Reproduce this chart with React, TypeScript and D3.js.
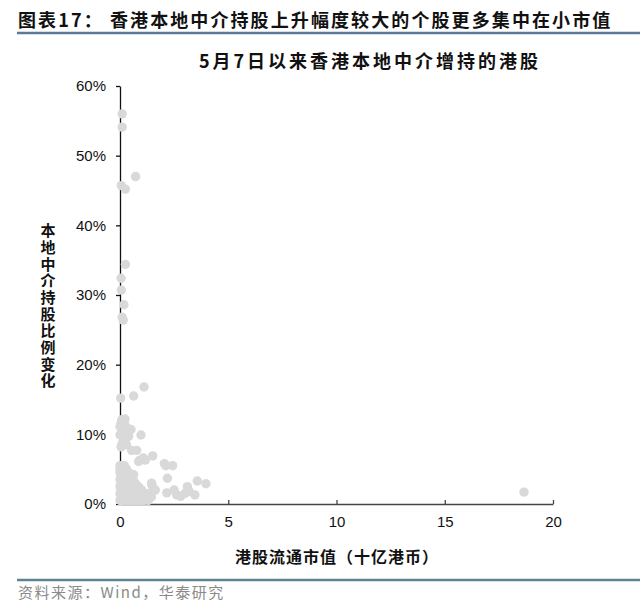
import React, { useRef, useEffect } from 'react';
import * as d3 from 'd3';

// --- DATA ---
// market cap in HKD bn, change in local-broker holding (%)
const marketCap = [
  0.1, 0.1, 0.72, 0.06, 0.25, 0.25, 0.05, 0.06, 0.18, 0.1, 0.15,
  1.11, 0.63, 0.03, 0.08, 0.23,
  0, 0.31, 0.51, 0.15, 0, 0.97, 0.23, 0.1, 0.05, 0.2, 0.35, 0.4, 0.1, 0.3, 0.05,
  0.54, 0.77, 0.92, 1.08, 1.51, 2.05, 2.12, 2.43, 2.19, 1.46, 3.57, 3.97, 2.16, 2.62, 3.11, 3.46, 3.0, 18.66,
  0.86, 1.17, 0.63, 1.48, 1.63, 2.5, 2.8, 3.2,
  0, 0.1, 0.2, 0, 0.15, 0.3, 0, 0.1, 0.25, 0.4, 0.05, 0.2, 0.35, 0.5,
  0, 0.15, 0.3, 0.45, 0.6, 0.05, 0.2, 0.4, 0.55, 0.7, 0, 0.1, 0.3, 0.5, 0.65, 0.85,
  0.05, 0.2, 0.35, 0.6, 0.8, 1.0, 0, 0.15, 0.3, 0.45, 0.7, 0.9, 1.15, 1.35,
  0.05, 0.25, 0.4, 0.55, 0.75, 1.0, 1.2, 1.45, 0, 0.1, 0.2, 0.35, 0.5, 0.65, 0.8, 0.95, 1.1, 1.3,
];
const holdingChange = [
  56.0, 54.1, 47.0, 45.7, 45.2, 34.4, 32.4, 30.7, 28.6, 26.8, 26.4,
  16.8, 15.5, 15.2, 12.1, 12.2,
  11.1, 11.0, 10.7, 10.1, 9.9, 9.9, 9.2, 10.6, 11.6, 11.5, 10.3, 9.7, 8.7, 8.5, 8.2,
  7.7, 7.7, 6.3, 6.6, 6.9, 5.8, 5.5, 5.5, 3.7, 3.0, 3.3, 2.9, 1.6, 1.3, 2.5, 1.3, 1.5, 1.7,
  6.1, 6.3, 4.2, 2.7, 2.0, 2.0, 1.1, 1.8,
  5.5, 5.5, 5.5, 5.0, 5.0, 5.0, 4.5, 4.5, 4.5, 4.5, 4.0, 4.0, 4.0, 4.0,
  3.5, 3.5, 3.5, 3.5, 3.5, 3.0, 3.0, 3.0, 3.0, 3.0, 2.5, 2.5, 2.5, 2.5, 2.5, 2.5,
  2.0, 2.0, 2.0, 2.0, 2.0, 2.0, 1.5, 1.5, 1.5, 1.5, 1.5, 1.5, 1.5, 1.5,
  1.0, 1.0, 1.0, 1.0, 1.0, 1.0, 1.0, 1.0, 0.5, 0.5, 0.5, 0.5, 0.5, 0.5, 0.5, 0.5, 0.5, 0.5,
];
const xTicks = [0, 5, 10, 15, 20];
const yTicks = [0, 10, 20, 30, 40, 50, 60];

const chartTitle = '图表17：  香港本地中介持股上升幅度较大的个股更多集中在小市值';
const subTitle = '5月7日以来香港本地中介增持的港股';
const xLabel = '港股流通市值（十亿港币）';
const yLabel = '本地中介持股比例变化';
const sourceNote = '资料来源：Wind，华泰研究';

const CJK = '"Noto Sans CJK SC", "Noto Sans", sans-serif';
const LATIN = '"Liberation Sans", Arial, sans-serif';

export default function App() {
  const svgRef = useRef<SVGSVGElement>(null);

  useEffect(() => {
    if (!svgRef.current) return;
    const svg = d3.select(svgRef.current);
    svg.selectAll('*').remove();

    const W = 643, H = 606;
    svg.attr('width', W).attr('height', H);
    svg.append('rect').attr('width', W).attr('height', H).attr('fill', '#fff');

    // header
    svg.append('text')
      .attr('x', 18).attr('y', 27)
      .attr('fill', '#111')
      .style('font-family', CJK).style('font-size', '18px').style('font-weight', 'bold')
      .style('letter-spacing', '2.1px')
      .text(chartTitle);
    svg.append('line')
      .attr('x1', 17).attr('x2', 640).attr('y1', 33).attr('y2', 33)
      .attr('stroke', '#5b7a99').attr('stroke-width', 2.5);

    svg.append('text')
      .attr('x', 370).attr('y', 68)
      .attr('text-anchor', 'middle')
      .attr('fill', '#111')
      .style('font-family', CJK).style('font-size', '18px').style('font-weight', 'bold')
      .style('letter-spacing', '3px')
      .text(subTitle);

    // scales
    const x = d3.scaleLinear().domain([0, 20]).range([120, 553]);
    const y = d3.scaleLinear().domain([0, 60]).range([504, 86]);

    // y axis
    const yAxis = svg.append('g')
      .attr('transform', `translate(${x(0)},0)`)
      .call(d3.axisLeft(y).tickValues(yTicks).tickSize(4).tickSizeOuter(0).tickPadding(10)
        .tickFormat(d => `${d}%`));
    yAxis.select('.domain').attr('stroke', '#111').attr('stroke-width', 1.3);
    yAxis.selectAll('.tick line').attr('stroke', '#111').attr('stroke-width', 1.3);
    yAxis.selectAll('text')
      .attr('fill', '#111')
      .style('font-family', LATIN).style('font-size', '15px');

    // x axis, ticks pointing inward
    const xAxis = svg.append('g')
      .attr('transform', `translate(0,${y(0)})`)
      .call(d3.axisBottom(x).tickValues(xTicks).tickSize(-4).tickSizeOuter(0).tickPadding(12));
    xAxis.select('.domain').attr('stroke', '#444').attr('stroke-width', 1.3);
    xAxis.selectAll('.tick line').attr('stroke', '#444').attr('stroke-width', 1.3);
    xAxis.selectAll('text')
      .attr('fill', '#111')
      .style('font-family', LATIN).style('font-size', '15px');

    // points
    const pts = marketCap.map((m, i) => ({ m, h: holdingChange[i] }));
    svg.append('g')
      .selectAll('circle')
      .data(pts)
      .enter()
      .append('circle')
      .attr('cx', d => x(d.m))
      .attr('cy', d => y(d.h))
      .attr('r', 4.7)
      .attr('fill', '#d9d9d9');

    // axis titles
    svg.append('text')
      .attr('x', 337).attr('y', 563)
      .attr('text-anchor', 'middle')
      .attr('fill', '#111')
      .style('font-family', CJK).style('font-size', '16px').style('font-weight', 'bold')
      .style('letter-spacing', '1px')
      .text(xLabel);

    // vertical y title (upright glyphs, top to bottom)
    svg.append('text')
      .attr('x', 48).attr('y', 223)
      .attr('fill', '#111')
      .style('writing-mode', 'vertical-rl')
      .style('font-family', CJK).style('font-size', '15px').style('font-weight', 'bold')
      .style('letter-spacing', '1.7px')
      .text(yLabel);

    // footer
    svg.append('line')
      .attr('x1', 17).attr('x2', 640).attr('y1', 580).attr('y2', 580)
      .attr('stroke', '#5f8290').attr('stroke-width', 2.5);
    svg.append('text')
      .attr('x', 18).attr('y', 598)
      .attr('fill', '#8a8a8a')
      .style('font-family', CJK).style('font-size', '15px')
      .style('letter-spacing', '1.5px')
      .text(sourceNote);
  }, []);

  return (
    <div style={{ position: 'absolute', left: 0, top: 0 }}>
      <svg ref={svgRef}></svg>
    </div>
  );
}
